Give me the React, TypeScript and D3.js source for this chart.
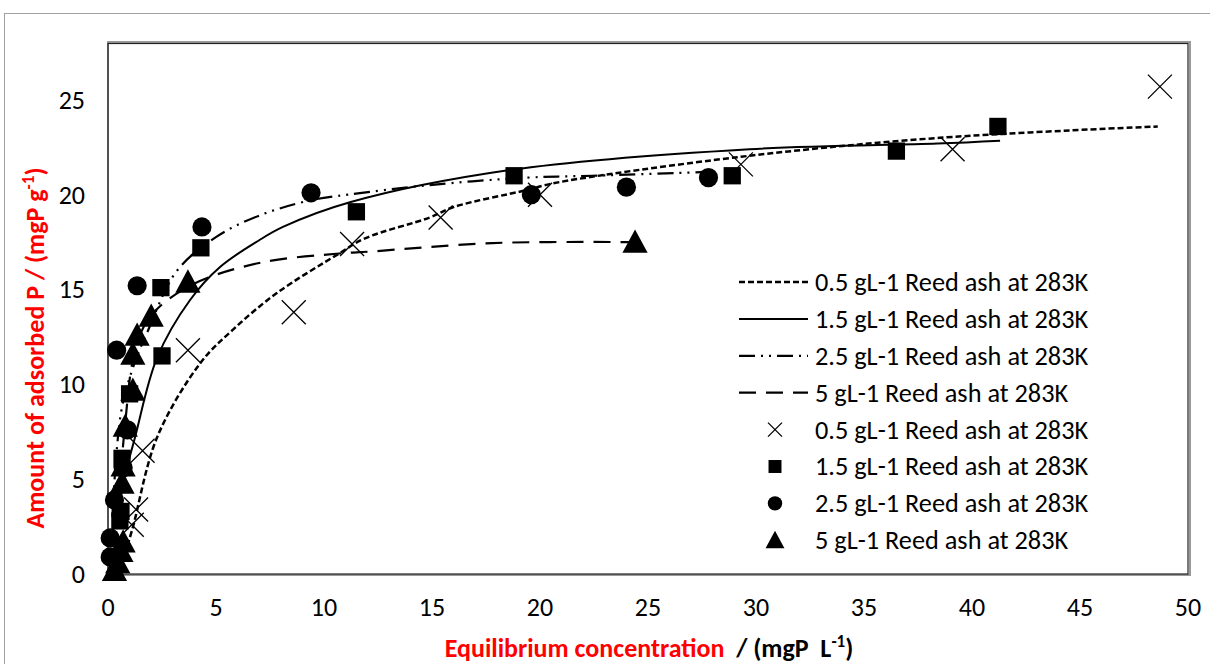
import * as d3 from 'd3';

// fitted curves
const CURVE_05: [number, number][] = [
  [0.9, 1.5], [1.16, 2.5], [2.27, 7.2], [4.26, 11.1], [5.8, 12.9], [7.8, 14.8],
  [10.7, 16.9], [11.9, 17.7], [14.9, 18.8], [16.0, 19.35], [19.4, 20.25],
  [20.6, 20.6], [29.3, 22.0], [38.5, 23.0], [48.6, 23.6],
];
const CURVE_15: [number, number][] = [
  [0.6, 4.0], [0.7, 4.8], [1.25, 7.2], [2.27, 11.4], [3.8, 14.45], [5.2, 16.2],
  [7.0, 17.6], [8.1, 18.3], [11.2, 19.6], [18.6, 21.3], [29.7, 22.4],
  [38.4, 22.7], [41.3, 22.85],
];
const CURVE_25: [number, number][] = [
  [0.2, 3.0], [0.6, 8.5], [1.16, 10.9], [1.8, 12.7], [3.2, 16.0], [5.05, 17.8],
  [7.0, 18.9], [9.35, 19.7], [11.1, 20.0], [14.8, 20.5], [19.4, 20.9],
  [22.4, 21.0], [27.7, 21.2],
];
const CURVE_5: [number, number][] = [
  [0.3, 1.0], [0.5, 4.0], [0.8, 8.0], [1.2, 11.5], [1.9, 13.5], [3.8, 15.2],
  [7.0, 16.4], [10.7, 16.9], [12.1, 17.0], [17.8, 17.45], [24.2, 17.5],
];

// measured points
const PTS_05: [number, number][] = [
  [1.1, 2.6], [1.3, 3.4], [1.6, 6.5], [3.7, 11.8], [8.6, 13.8], [11.3, 17.4],
  [15.4, 18.8], [20.0, 20.0], [29.3, 21.6], [39.1, 22.4], [48.7, 25.7],
];
const PTS_15: [number, number][] = [
  [0.55, 2.8], [0.6, 3.3], [0.65, 6.1], [1.0, 9.5], [2.5, 11.5], [2.45, 15.1],
  [4.3, 17.2], [11.5, 19.1], [18.8, 21.0], [28.9, 21.0], [36.5, 22.3], [41.2, 23.6],
];
const PTS_25: [number, number][] = [
  [0.1, 0.9], [0.1, 1.9], [0.3, 3.9], [0.7, 5.6], [0.9, 7.6], [0.4, 11.8],
  [1.35, 15.2], [4.35, 18.3], [9.4, 20.1], [19.6, 20.0], [24.0, 20.4], [27.8, 20.9],
];
const PTS_5: [number, number][] = [
  [0.3, 0.2], [0.45, 0.6], [0.6, 1.2], [0.7, 1.7], [0.65, 4.8], [0.7, 5.7],
  [0.8, 7.8], [1.15, 9.7], [1.15, 11.6], [1.35, 12.6], [2.0, 13.6],
  [3.7, 15.4], [24.4, 17.5],
];

const X_TICKS = [0, 5, 10, 15, 20, 25, 30, 35, 40, 45, 50];
const Y_TICKS = [0, 5, 10, 15, 20, 25];

const LINE_LABELS = [
  '0.5 gL-1 Reed ash at 283K',
  '1.5 gL-1 Reed ash at 283K',
  '2.5 gL-1 Reed ash at 283K',
  '5 gL-1 Reed ash at 283K',
];
const POINT_LABELS = [
  '0.5 gL-1 Reed ash at 283K',
  '1.5 gL-1 Reed ash at 283K',
  '2.5 gL-1 Reed ash at 283K',
  '5 gL-1 Reed ash at 283K',
];

const FONT = "Carlito, Calibri, Lato, sans-serif";
const DASHES = ['6 3', '', '16 6 2 6 2 6', '17 10'];
const WIDTHS = [2.5, 2, 2.2, 2.2];

type Shape = 'x' | 'square' | 'circle' | 'triangle';
const SHAPES: Shape[] = ['x', 'square', 'circle', 'triangle'];

function Marker({ shape, x, y, s }: { shape: Shape; x: number; y: number; s: number }) {
  if (shape === 'x') {
    return (
      <path
        d={`M${x - s},${y - s}L${x + s},${y + s}M${x - s},${y + s}L${x + s},${y - s}`}
        stroke="#000"
        strokeWidth={1.3}
        fill="none"
      />
    );
  }
  if (shape === 'square') {
    const h = s * 0.72;
    return <rect x={x - h} y={y - h} width={2 * h} height={2 * h} fill="#000" />;
  }
  if (shape === 'circle') {
    return <circle cx={x} cy={y} r={s * 0.8} fill="#000" />;
  }
  const w = s * 1.05;
  return (
    <path
      d={`M${x},${y - w}L${x + w},${y + w * 0.85}L${x - w},${y + w * 0.85}Z`}
      fill="#000"
    />
  );
}

export default function App() {
  const width = 1210;
  const height = 664;
  const x = d3.scaleLinear().domain([0, 50]).range([108, 1188]);
  const y = d3.scaleLinear().domain([0, 28]).range([574, 43]);

  const line = d3
    .line<[number, number]>()
    .x((d) => x(d[0]))
    .y((d) => y(d[1]))
    .curve(d3.curveCatmullRom.alpha(0.5));

  const curves = [CURVE_05, CURVE_15, CURVE_25, CURVE_5];
  const points = [PTS_05, PTS_15, PTS_25, PTS_5];

  const legendY = (i: number) => 282 + i * 36.9;

  return (
    <svg
      width={width}
      height={height}
      style={{ position: 'absolute', left: 0, top: 0, background: '#fff' }}
      fontFamily={FONT}
    >
      <rect x={0} y={0} width={width} height={height} fill="#fff" />
      {/* outer chart frame */}
      <rect x={4.5} y={13.5} width={1220} height={680} fill="none" stroke="#a0a0a0" strokeWidth={1} />
      {/* plot area */}
      <rect x={108} y={42} width={1082} height={533} fill="none" stroke="#9a9a9a" strokeWidth={2} />
      <rect x={108} y={43.5} width={1080} height={530.5} fill="none" stroke="#222" strokeWidth={1.2} />

      {Y_TICKS.map((t) => (
        <text key={t} x={85} y={y(t)} dy="0.34em" textAnchor="end" fontSize={26} fill="#000">
          {t}
        </text>
      ))}
      {X_TICKS.map((t) => (
        <text key={t} x={x(t)} y={607} dy="0.34em" textAnchor="middle" fontSize={26} fill="#000">
          {t}
        </text>
      ))}

      {curves.map((c, i) => (
        <path
          key={i}
          d={line(c) ?? ''}
          fill="none"
          stroke="#000"
          strokeWidth={WIDTHS[i]}
          strokeDasharray={DASHES[i] || undefined}
        />
      ))}

      {points.map((pts, i) => (
        <g key={i}>
          {pts.map((p, j) => (
            <Marker key={j} shape={SHAPES[i]} x={x(p[0])} y={y(p[1])} s={12} />
          ))}
        </g>
      ))}

      {/* legend */}
      {LINE_LABELS.map((l, i) => (
        <g key={`l${i}`}>
          <line
            x1={739}
            x2={808}
            y1={legendY(i)}
            y2={legendY(i)}
            stroke="#000"
            strokeWidth={WIDTHS[i]}
            strokeDasharray={DASHES[i] || undefined}
          />
          <text x={815} y={legendY(i)} dy="0.34em" fontSize={26.3} fill="#000">
            {l}
          </text>
        </g>
      ))}
      {POINT_LABELS.map((l, i) => (
        <g key={`p${i}`}>
          <Marker shape={SHAPES[i]} x={775} y={legendY(i + 4)} s={i === 0 ? 7 : 9} />
          <text x={815} y={legendY(i + 4)} dy="0.34em" fontSize={26.3} fill="#000">
            {l}
          </text>
        </g>
      ))}

      <text
        transform="translate(44,348) rotate(-90)"
        textAnchor="middle"
        fontSize={26}
        fontWeight="bold"
        fill="#ff0000"
      >
        Amount of adsorbed P / (mgP g<tspan dy={-10} fontSize={17}>-1</tspan>
        <tspan dy={10}>)</tspan>
      </text>

      <text x={649} y={657} textAnchor="middle" fontSize={26} fontWeight="bold">
        <tspan fill="#ff0000">Equilibrium concentration</tspan>
        <tspan fill="#000" xmlSpace="preserve">{'  / (mgP  L'}</tspan>
        <tspan fill="#000" dy={-10} fontSize={17}>-1</tspan>
        <tspan fill="#000" dy={10}>)</tspan>
      </text>
    </svg>
  );
}
